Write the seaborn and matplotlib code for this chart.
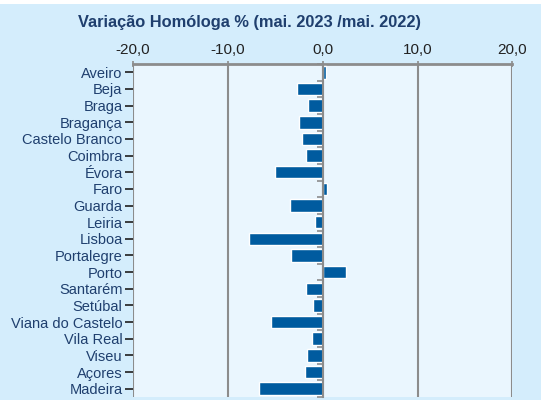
import matplotlib
matplotlib.use("Agg")
import matplotlib.pyplot as plt
import seaborn as sns
import pandas as pd
from matplotlib.patches import Rectangle

regions = ["Aveiro", "Beja", "Braga", "Bragança", "Castelo Branco", "Coimbra",
           "Évora", "Faro", "Guarda", "Leiria", "Lisboa", "Portalegre", "Porto",
           "Santarém", "Setúbal", "Viana do Castelo", "Vila Real", "Viseu",
           "Açores", "Madeira"]
values = [0.3, -2.7, -1.6, -2.5, -2.2, -1.8, -5.0, 0.4, -3.4, -0.8,
          -7.8, -3.3, 2.5, -1.8, -1.0, -5.5, -1.1, -1.7, -1.9, -6.7]
xticks = [-20, -10, 0, 10, 20]
xticklabels = ["-20,0", "-10,0", "0,0", "10,0", "20,0"]
title = "Variação Homóloga % (mai. 2023 /mai. 2022)"

sns.set_theme(style="white")
plt.rcParams['font.family'] = ['Liberation Sans', 'DejaVu Sans']

outer_bg = "#d4edfc"
inner_bg = "#eaf6fe"
bar_color = "#005b9f"
grid_color = "#8c8c8c"
label_color = "#1f3f6e"

fig = plt.figure(figsize=(5.41, 4.0), dpi=100)
fig.patch.set_facecolor(outer_bg)
fig.patches.append(Rectangle((0, 0.99), 1, 0.01, transform=fig.transFigure,
                             facecolor="white", edgecolor="none", zorder=0))
ax = fig.add_axes([0.2458, 0.0075, 0.7015, 0.8325])
ax.set_facecolor(inner_bg)

df = pd.DataFrame({"region": regions, "value": values})
sns.barplot(data=df, x="value", y="region", orient="h", color=bar_color,
            width=0.75, saturation=1, ax=ax, zorder=3)

ax.set_xlim(-20, 20)
ax.set_ylim(len(regions) - 0.5, -0.5)
ax.set_xticks(xticks)
ax.set_xticklabels(xticklabels)
ax.xaxis.tick_top()
ax.tick_params(axis="x", which="both", top=True, bottom=False, length=4,
               width=1.2, color=grid_color, direction="inout", labelsize=11,
               labelcolor="#222222", pad=3)
ax.tick_params(axis="y", left=False, labelsize=10.5, labelcolor=label_color, pad=1.5)
ax.set_xlabel("")
ax.set_ylabel("")

for xv in xticks:
    ax.axvline(xv, color=grid_color, linewidth=1.5, zorder=1)

for s in ["bottom", "right"]:
    ax.spines[s].set_visible(False)
ax.spines["left"].set_visible(False)
ax.spines["top"].set_color(grid_color)
ax.spines["top"].set_linewidth(2)

# vertical category axis crossing at zero, with small tick marks
ax2 = ax.twinx()
ax2.set_ylim(ax.get_ylim())
for s in ["top", "bottom", "left"]:
    ax2.spines[s].set_visible(False)
ax2.spines["right"].set_position(("data", 0))
ax2.spines["right"].set_color(grid_color)
ax2.spines["right"].set_linewidth(1.5)
ax2.set_yticks([i - 0.5 for i in range(len(regions) + 1)])
ax2.yaxis.set_ticks_position("right")
ax2.tick_params(axis="y", direction="in", length=4, width=1.2, color=grid_color,
                labelright=False)

fig.text(0.462, 0.945, title, ha="center", va="center", fontsize=11.8,
         fontweight="bold", color=label_color)

fig.savefig("out.png", dpi=100, facecolor=fig.get_facecolor())
